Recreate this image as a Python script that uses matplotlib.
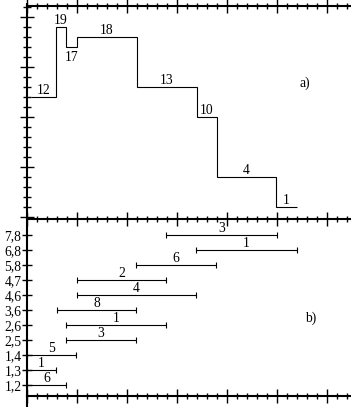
import matplotlib
matplotlib.use("Agg")
import matplotlib.pyplot as plt
from matplotlib.ticker import MultipleLocator, NullFormatter
import numpy as np

# ---- data ----
step_edges = [0.43, 2.93, 3.97, 5.0, 11.07, 17.0, 19.07, 24.9, 27.0]
step_values = [12, 19, 17, 18, 13, 10, 4, 1]

pair_labels = ["1,2", "1,3", "1,4", "2,5", "2,6", "3,6", "4,6", "4,7", "5,8", "6,8", "7,8"]
int_start = [0.0, 0.0, 0.0, 3.95, 3.95, 3.0, 5.0, 5.0, 10.9, 16.95, 13.95]
int_end = [3.95, 2.95, 4.95, 10.9, 13.95, 10.95, 16.95, 13.95, 18.95, 27.05, 25.0]
int_count = [6, 1, 5, 3, 1, 8, 4, 2, 6, 1, 3]

W, H = 351, 408
DPI = 100
FS = 9.8
plt.rcParams['font.family'] = ['Liberation Serif', 'DejaVu Serif']
fig = plt.figure(figsize=(W / DPI, H / DPI), dpi=DPI)

def px_axes(left, top, right, bottom):
    return fig.add_axes([left / W, 1 - bottom / H, (right - left) / W, (bottom - top) / H])

AXLW = 1.5
LW = 0.8
x0 = 26.7
# ---- top panel ----
ax1 = px_axes(x0, 6, W, 217.3)
ax1.set_xlim(0, (W - x0) / 10)
ax1.set_ylim(0, (217.3 - 6) / 10)
ax1.stairs(step_values, step_edges, baseline=None, color='black', lw=LW)
for i, v in enumerate(step_values):
    xc = (step_edges[i] + step_edges[i + 1]) / 2
    dy = -7.5 if i == 2 else 5.2
    ax1.annotate(str(v), (xc, v), xytext=(0, dy), textcoords='offset points',
                 ha='center', va='center', fontsize=FS)
ax1.text(300, H - 83.3, "a)", transform=None, fontsize=FS, va='center')
for s in ['right', 'bottom']:
    ax1.spines[s].set_visible(False)
for s in ['left', 'top']:
    ax1.spines[s].set_linewidth(AXLW)
ax1.xaxis.set_ticks_position('top')
ax1.xaxis.set_major_locator(MultipleLocator(5))
ax1.xaxis.set_minor_locator(MultipleLocator(1))
ax1.yaxis.set_major_locator(MultipleLocator(5))
ax1.yaxis.set_minor_locator(MultipleLocator(1))
ax1.xaxis.set_major_formatter(NullFormatter())
ax1.yaxis.set_major_formatter(NullFormatter())
ax1.tick_params(which='major', direction='inout', length=10, width=1.0)
ax1.tick_params(axis='x', which='minor', direction='inout', length=4.5, width=1.0)
ax1.tick_params(axis='y', which='minor', direction='inout', length=6, width=1.0)
ax1.set_facecolor('none')

# ---- bottom panel ----
ax2 = px_axes(x0, 219, W, 395.7)
ax2.set_xlim(0, (W - x0) / 10)
ypos = np.arange(len(pair_labels))
ax2.set_ylim(-(395.7 - 385) / 15, (385 - 219) / 15)
ax2.hlines(ypos, int_start, int_end, color='black', lw=LW)
ax2.vlines(int_start, ypos - 0.17, ypos + 0.17, color='black', lw=LW)
ax2.vlines(int_end, ypos - 0.17, ypos + 0.17, color='black', lw=LW)
for y, s, e, c in zip(ypos, int_start, int_end, int_count):
    ax2.annotate(str(c), ((s + e) / 2, y), xytext=(0, 4.6), textcoords='offset points',
                 ha='center', va='center', fontsize=FS)
ax2.text(305, H - 318.3, "b)", transform=None, fontsize=FS, va='center')
ax2.spines['right'].set_visible(False)
for s in ['left', 'top', 'bottom']:
    ax2.spines[s].set_linewidth(AXLW)
ax2.spines['left'].set_visible(False)
ax2.plot([0, 0], [1.0, -(406.7 - 395.7) / 176.7], transform=ax2.transAxes,
         color='black', lw=AXLW, clip_on=False, solid_capstyle='butt')
ax2.xaxis.set_ticks_position('both')
ax2.xaxis.set_major_locator(MultipleLocator(5))
ax2.xaxis.set_minor_locator(MultipleLocator(1))
ax2.xaxis.set_major_formatter(NullFormatter())
ax2.tick_params(axis='x', which='major', direction='inout', length=10, width=1.0)
ax2.tick_params(axis='x', which='minor', direction='inout', length=4.5, width=1.0)
ax2.set_yticks(ypos)
ax2.set_yticklabels(pair_labels, fontsize=FS)
ax2.tick_params(axis='y', direction='inout', length=6.5, width=1.0, pad=0.5)
ax2.set_facecolor('none')

# extend top panel's left axis slightly above
ax1.plot([0, 0], [1.0, 1.0 + 3 / 211.3], transform=ax1.transAxes, color='black', lw=AXLW,
         clip_on=False, solid_capstyle='butt')

fig.savefig("out.png", dpi=DPI)
